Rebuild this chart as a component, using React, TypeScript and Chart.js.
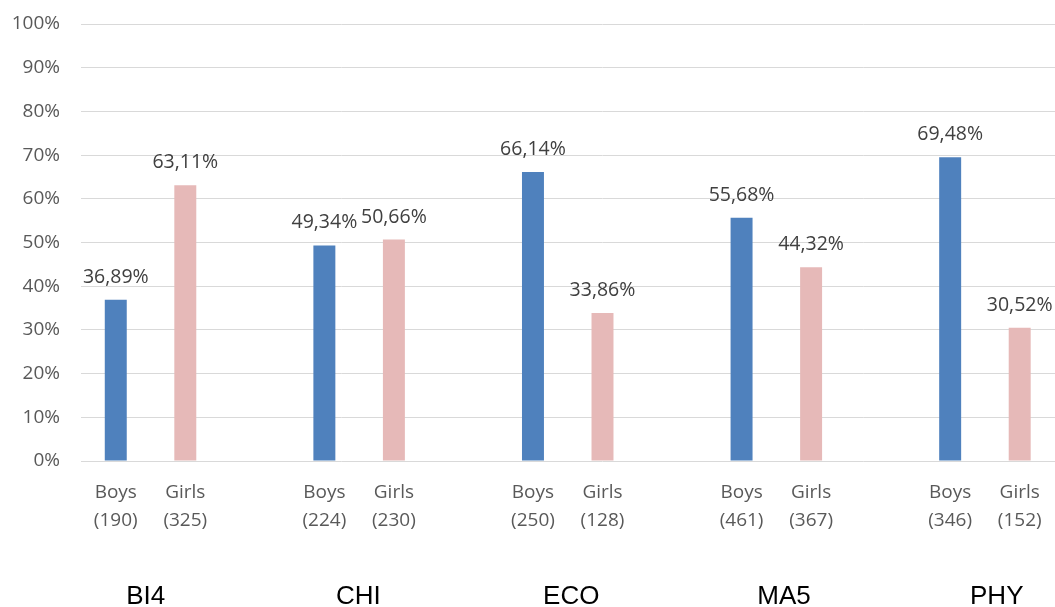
import React, { useEffect, useRef } from "react";
import { Chart, registerables } from "chart.js";

Chart.register(...registerables);

const subjects = ["BI4", "CHI", "ECO", "MA5", "PHY"];
const boysPct = [36.89, 49.34, 66.14, 55.68, 69.48];
const girlsPct = [63.11, 50.66, 33.86, 44.32, 30.52];
const boysN = [190, 224, 250, 461, 346];
const girlsN = [325, 230, 128, 367, 152];
const yTicks = [0, 10, 20, 30, 40, 50, 60, 70, 80, 90, 100];

const BLUE = "#4F81BD";
const PINK = "#E6B9B8";
const GROUP_STRIDE = 3.06;
const GROUP_OFFSET = 0.43;

const fmt = (v: number) => v.toFixed(2).replace(".", ",") + "%";

export default function App() {
  const ref = useRef<HTMLCanvasElement | null>(null);

  useEffect(() => {
    if (!ref.current) return;
    const labels: any[] = [];
    const boysData: (number | null)[] = [];
    const girlsData: (number | null)[] = [];
    subjects.forEach((_, i) => {
      labels.push(["Boys", `(${boysN[i]})`]);
      boysData.push(boysPct[i]);
      girlsData.push(null);
      labels.push(["Girls", `(${girlsN[i]})`]);
      boysData.push(null);
      girlsData.push(girlsPct[i]);
      labels.push("");
      boysData.push(null);
      girlsData.push(null);
    });

    const valueLabels = {
      id: "valueLabels",
      afterDatasetsDraw(chart: any) {
        const ctx = chart.ctx;
        ctx.save();
        ctx.font = '19.5px "Open Sans"';
        ctx.fillStyle = "#404040";
        ctx.textAlign = "center";
        ctx.textBaseline = "alphabetic";
        chart.data.datasets.forEach((ds: any, di: number) => {
          const meta = chart.getDatasetMeta(di);
          meta.data.forEach((bar: any, idx: number) => {
            const v = ds.data[idx];
            if (v == null) return;
            ctx.fillText(fmt(v), bar.x, bar.y - 17);
          });
        });
        ctx.restore();
      },
    };

    const groupLabels = {
      id: "groupLabels",
      afterDraw(chart: any) {
        const ctx = chart.ctx;
        const xs = chart.scales.x;
        ctx.save();
        ctx.font = '26px "Liberation Sans"';
        ctx.fillStyle = "#000000";
        ctx.textAlign = "center";
        ctx.textBaseline = "alphabetic";
        subjects.forEach((s, i) => {
          const x = xs.getPixelForValue(GROUP_OFFSET + i * GROUP_STRIDE);
          ctx.fillText(s, x, 604);
        });
        ctx.restore();
      },
    };

    const chart = new Chart(ref.current, {
      type: "bar",
      data: {
        labels,
        datasets: [
          { label: "Boys", data: boysData, backgroundColor: BLUE, skipNull: true } as any,
          { label: "Girls", data: girlsData, backgroundColor: PINK, skipNull: true } as any,
        ],
      },
      options: {
        animation: false,
        responsive: true,
        maintainAspectRatio: false,
        layout: { padding: { top: 24, right: 0, bottom: 0, left: 0 } },
        datasets: { bar: { barPercentage: 0.316, categoryPercentage: 1 } },
        plugins: { legend: { display: false }, tooltip: { enabled: false } },
        scales: {
          x: {
            grid: { display: false, drawTicks: false },
            border: { display: false },
            afterFit: (s: any) => {
              s.height = 146;
              s.paddingLeft = 0;
              s.paddingRight = 0;
              s.paddingTop = 0;
              s.paddingBottom = 0;
            },
            ticks: {
              autoSkip: false,
              maxRotation: 0,
              padding: 18,
              color: "#595959",
              font: { family: "Open Sans", size: 19, lineHeight: 1.45 },
            },
          },
          y: {
            min: 0,
            max: 100,
            afterFit: (s: any) => {
              s.width = 81;
              s.paddingTop = 0;
              s.paddingBottom = 0;
              s.paddingLeft = 0;
              s.paddingRight = 0;
            },
            afterBuildTicks: (s: any) => {
              s.ticks = yTicks.map((v) => ({ value: v }));
            },
            grid: { color: "#D9D9D9", lineWidth: 1, drawTicks: false },
            border: { display: false },
            ticks: {
              padding: 21,
              color: "#595959",
              font: { family: "Open Sans", size: 19 },
              callback: (v: any) => v + "%",
            },
          },
        },
      },
      plugins: [valueLabels, groupLabels],
    });
    return () => chart.destroy();
  }, []);

  return (
    <div
      style={{
        position: "fixed",
        left: 0,
        top: 0,
        width: 1055,
        height: 607,
        overflow: "hidden",
        background: "#fff",
      }}
    >
      <div style={{ position: "relative", width: 1124, height: 607 }}>
        <canvas ref={ref} />
      </div>
    </div>
  );
}
